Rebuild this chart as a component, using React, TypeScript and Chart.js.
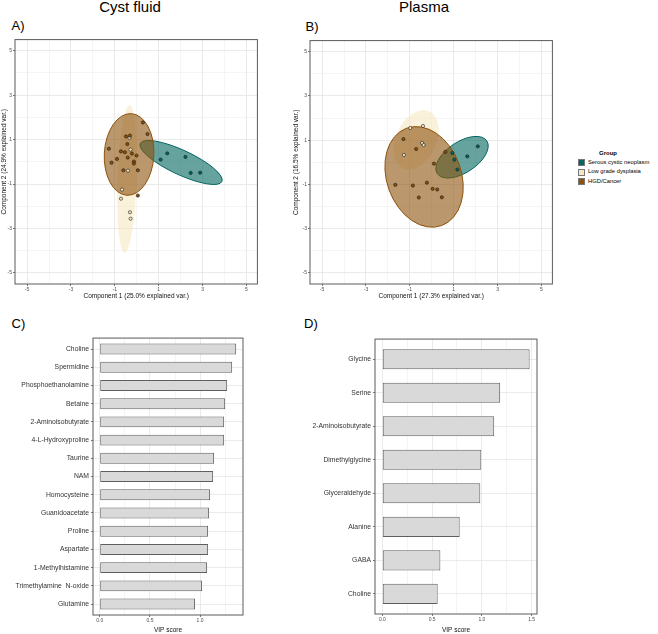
import React, { useEffect, useRef } from "react";
import { Chart, registerables } from "chart.js";
Chart.register(...registerables);

const FONT = "'Liberation Sans', Arial, Helvetica, sans-serif";

// ---- groups ----
const GROUPS = ["Serous cystic neoplasm", "Low grade dysplasia", "HGD/Cancer"];
const GROUP_COLORS = ["#01665E", "#F6E8C3", "#8C510A"];
const ELLIPSE_FILLS = ["rgba(1,102,94,0.6)", "rgba(246,232,195,0.6)", "rgba(140,81,10,0.6)"];
const ELLIPSE_STROKES = ["#01665E", "", "#8C510A"];

// ---- PCA axes ----
const PCA_GRID = [-5, -4, -3, -2, -1, 0, 1, 2, 3, 4, 5];
const PCA_LABELS = [-5, -3, -1, 1, 3, 5];

// ---- A) Cyst fluid ----
const A_SCN_X = [1.09, 1.39, 2.22, 2.46, 2.89];
const A_SCN_Y = [0.1, 0.38, 0.22, -0.5, -0.49];
const A_LGD_X = [-0.33, -0.28, -0.4, -0.67, -0.72, -0.31, -0.28];
const A_LGD_Y = [1.08, 0.55, -0.4, -1.25, -1.66, -2.27, -2.56];
const A_HGD_X = [0.28, 0.49, -1.27, -0.49, -0.31, -0.43, -0.72, -0.54, -0.22, -0.01, -0.9, -0.41, -1.15, -0.13, -0.13, -0.61, 0.05, 0.05];
const A_HGD_Y = [1.77, 1.25, 0.59, 1.14, 1.18, 0.8, 0.47, 0.43, 0.37, 0.28, 0.13, 0.19, -0.04, 0.01, -0.08, -0.38, -0.38, -1.52];
// ellipses (order: SCN, LGD, HGD)
const A_ELL_CX = [2.02, -0.44, -0.35];
const A_ELL_CY = [-0.03, -0.77, 0.33];
const A_ELL_A = [2.05, 3.32, 1.84];
const A_ELL_B = [0.55, 0.44, 1.13];
const A_ELL_ANGLE = [-24.7, 88, 87];
const A_XTITLE = "Component 1 (25.0% explained var.)";
const A_YTITLE = "Component 2 (24.9% explained var.)";

// ---- B) Plasma ----
const B_SCN_X = [0.94, 1.03, 1.17, 1.62, 2.1];
const B_SCN_Y = [0.42, 0.12, -0.33, 0.27, 0.72];
const B_LGD_X = [-0.98, -0.4, -0.44, -0.37, -1.27];
const B_LGD_Y = [1.55, 1.64, 0.87, 0.78, 0.33];
const B_HGD_X = [-1.29, -0.71, 0.62, 0.1, -1.66, -0.86, -0.22, 0.04, 0.25, -0.59, 0.46];
const B_HGD_Y = [1.05, 0.6, 0.47, -0.06, -1.02, -1.05, -0.92, -1.2, -1.23, -1.59, -1.58];
const B_ELL_CX = [1.38, -0.71, -0.35];
const B_ELL_CY = [0.23, 1.02, -0.66];
const B_ELL_A = [1.35, 1.42, 2.34];
const B_ELL_B = [0.7, 0.92, 1.7];
const B_ELL_ANGLE = [33, 65, 110];
const B_XTITLE = "Component 1 (27.3% explained var.)";
const B_YTITLE = "Component 2 (16.5% explained var.)";

// ---- C) VIP cyst fluid ----
const C_CATS = [
  "Choline", "Spermidine", "Phosphoethanolamine", "Betaine", "2-Aminoisobutyrate",
  "4-L-Hydroxyproline", "Taurine", "NAM", "Homocysteine", "Guanidoacetate",
  "Proline", "Aspartate", "1-Methylhistamine", "Trimethylamine  N-oxide", "Glutamine",
];
const C_VIP = [1.36, 1.32, 1.27, 1.25, 1.24, 1.24, 1.14, 1.13, 1.1, 1.09, 1.08, 1.08, 1.07, 1.02, 0.95];
const C_GRID = [0, 0.25, 0.5, 0.75, 1.0, 1.25];

// ---- D) VIP plasma ----
const D_CATS = ["Glycine", "Serine", "2-Aminoisobutyrate", "Dimethylglycine", "Glyceraldehyde", "Alanine", "GABA", "Choline"];
const D_VIP = [1.48, 1.184, 1.124, 0.994, 0.984, 0.777, 0.583, 0.556];
const D_GRID = [0, 0.25, 0.5, 0.75, 1.0, 1.25, 1.5];
const VIP_LABELS = [0, 0.5, 1.0, 1.5];

// ---- plugins ----
const ellipsePlugin = {
  id: "ellipses",
  beforeDatasetsDraw(chart: any, _a: any, opts: any) {
    const items = (opts && opts.items) || [];
    const { ctx, chartArea, scales } = chart;
    const x = scales.x, y = scales.y;
    ctx.save();
    ctx.beginPath();
    ctx.rect(chartArea.left, chartArea.top, chartArea.right - chartArea.left, chartArea.bottom - chartArea.top);
    ctx.clip();
    for (const e of items) {
      const px = x.getPixelForValue(e.cx);
      const py = y.getPixelForValue(e.cy);
      const sx = x.getPixelForValue(e.cx + 1) - px;
      const sy = py - y.getPixelForValue(e.cy + 1);
      ctx.save();
      ctx.translate(px, py);
      ctx.scale(sx, -sy);
      ctx.rotate((e.angle * Math.PI) / 180);
      ctx.beginPath();
      ctx.ellipse(0, 0, e.a, e.b, 0, 0, Math.PI * 2);
      ctx.restore();
      ctx.fillStyle = e.fill;
      ctx.fill();
      if (e.stroke) {
        ctx.strokeStyle = e.stroke;
        ctx.lineWidth = 1;
        ctx.stroke();
      }
    }
    ctx.restore();
  },
};

const boxPlugin = {
  id: "panelBox",
  afterDatasetsDraw(chart: any) {
    const { ctx, chartArea: a } = chart;
    ctx.save();
    ctx.strokeStyle = "#5a5a5a";
    ctx.lineWidth = 1;
    ctx.strokeRect(a.left, a.top, a.right - a.left, a.bottom - a.top);
    ctx.restore();
  },
};

const TICK_FONT = { family: FONT, size: 5 };
const TITLE_FONT = { family: FONT, size: 6.5 };

function buildEllipses(cx: number[], cy: number[], a: number[], b: number[], ang: number[]) {
  return cx.map((_, i) => ({
    cx: cx[i], cy: cy[i], a: a[i], b: b[i], angle: ang[i],
    fill: ELLIPSE_FILLS[i], stroke: ELLIPSE_STROKES[i],
  }));
}

function pts(xs: number[], ys: number[]) {
  return xs.map((v, i) => ({ x: v, y: ys[i] }));
}

function scatterConfig(
  scn: any[], lgd: any[], hgd: any[], ellipses: any[], xTitle: string, yTitle: string, yWidth: number
): any {
  const ds = (data: any[], gi: number) => ({
    label: GROUPS[gi],
    data,
    backgroundColor: GROUP_COLORS[gi],
    borderColor: "#1a1a1a",
    borderWidth: 0.6,
    pointRadius: 1.6,
  });
  const axisCommon = (title: string, isX: boolean) => ({
    type: "linear",
    min: isX ? -5.55 : -5.5,
    max: 5.5,
    afterBuildTicks: (s: any) => {
      s.ticks = PCA_GRID.map((v) => ({ value: v }));
    },
    afterFit: (s: any) => {
      if (isX) s.height = 16;
      else s.width = yWidth;
    },
    ticks: {
      autoSkip: false,
      maxRotation: 0,
      padding: 1,
      font: TICK_FONT,
      color: "#4d4d4d",
      callback: (v: number) => (PCA_LABELS.includes(v) ? String(v) : ""),
    },
    grid: {
      color: (c: any) => (c.tick && PCA_LABELS.includes(c.tick.value) ? "#e4e4e4" : "#efefef"),
      lineWidth: (c: any) => (c.tick && PCA_LABELS.includes(c.tick.value) ? 0.8 : 0.6),
      tickLength: 2,
      tickColor: (c: any) => (c.tick && PCA_LABELS.includes(c.tick.value) ? "#555" : "rgba(0,0,0,0)"),
    },
    border: { display: false },
    title: { display: true, text: title, font: TITLE_FONT, color: "#111", padding: 0 },
  });
  return {
    type: "scatter",
    data: { datasets: [ds(hgd, 2), ds(scn, 0), ds(lgd, 1)] },
    options: {
      responsive: false,
      animation: false,
      layout: { padding: { top: 4, right: 3, bottom: 0, left: 0 } },
      plugins: {
        legend: { display: false },
        tooltip: { enabled: false },
        ellipses: { items: ellipses },
      },
      scales: { x: axisCommon(xTitle, true), y: axisCommon(yTitle, false) },
    },
    plugins: [ellipsePlugin, boxPlugin],
  };
}

function barConfig(cats: string[], vals: number[], grid: number[], xMin: number, xMax: number, yWidth: number, xHeight: number): any {
  const yTicks = cats.map((_, i) => i + 1);
  return {
    type: "bar",
    data: {
      datasets: [
        {
          data: vals.map((v, i) => ({ x: v, y: i + 1 })),
          backgroundColor: "#d9d9d9",
          borderColor: "#5f5f5f",
          borderWidth: 1,
          borderSkipped: false,
          barPercentage: 0.6,
          categoryPercentage: 1,
        },
      ],
    },
    options: {
      indexAxis: "y",
      responsive: false,
      animation: false,
      layout: { padding: { top: 4, right: 3, bottom: 0, left: 0 } },
      plugins: { legend: { display: false }, tooltip: { enabled: false } },
      scales: {
        x: {
          type: "linear",
          min: xMin,
          max: xMax,
          afterBuildTicks: (s: any) => {
            s.ticks = grid.map((v) => ({ value: v }));
          },
          afterFit: (s: any) => {
            s.height = xHeight;
          },
          ticks: {
            autoSkip: false,
            maxRotation: 0,
            padding: 1,
            font: TICK_FONT,
            color: "#4d4d4d",
            callback: (v: number) => (VIP_LABELS.includes(v) ? v.toFixed(1) : ""),
          },
          grid: {
            color: (c: any) => (c.tick && VIP_LABELS.includes(c.tick.value) ? "#e6e6e6" : "#f1f1f1"),
            lineWidth: 0.8,
            tickLength: 2,
            tickColor: (c: any) => (c.tick && VIP_LABELS.includes(c.tick.value) ? "#555" : "rgba(0,0,0,0)"),
          },
          border: { display: false },
          title: { display: true, text: "VIP score", font: TITLE_FONT, color: "#111", padding: 0 },
        },
        y: {
          type: "linear",
          reverse: true,
          offset: false,
          min: 0.4,
          max: cats.length + 0.6,
          afterBuildTicks: (s: any) => {
            s.ticks = yTicks.map((v) => ({ value: v }));
          },
          afterFit: (s: any) => {
            s.width = yWidth;
          },
          ticks: {
            autoSkip: false,
            padding: 2,
            font: { family: FONT, size: 6.8 },
            color: "#333",
            callback: (v: number) => cats[v - 1],
          },
          grid: {
            offset: false,
            color: "#e6e6e6",
            lineWidth: 0.8,
            tickLength: 2,
            tickColor: "#555",
          },
          border: { display: false },
        },
      },
    },
    plugins: [boxPlugin],
  };
}

function ChartCanvas(props: { left: number; top: number; width: number; height: number; make: () => any }) {
  const ref = useRef<HTMLCanvasElement>(null);
  useEffect(() => {
    const chart = new Chart(ref.current as HTMLCanvasElement, props.make());
    return () => chart.destroy();
  }, []);
  return (
    <canvas
      ref={ref}
      width={props.width}
      height={props.height}
      style={{ position: "absolute", left: props.left, top: props.top, width: props.width, height: props.height }}
    />
  );
}

function Label(props: { text: string; left: number; top: number; size: number; width?: number; center?: boolean; bold?: boolean }) {
  return (
    <div
      style={{
        position: "absolute",
        left: props.left,
        top: props.top,
        width: props.width,
        textAlign: props.center ? "center" : "left",
        fontFamily: FONT,
        fontSize: props.size,
        fontWeight: props.bold ? "bold" : "normal",
        lineHeight: 1,
        whiteSpace: "pre",
        color: "#000",
      }}
    >
      {props.text}
    </div>
  );
}

export default function App() {
  return (
    <div style={{ position: "absolute", left: 0, top: 0, width: 658, height: 634, background: "#fff", overflow: "hidden" }}>
      <Label text="Cyst fluid" left={30} top={-1} width={200} size={15} center />
      <Label text="Plasma" left={324} top={-1} width={200} size={15} center />
      <Label text="A)" left={11.5} top={19} size={13} />
      <Label text="B)" left={305.5} top={19.5} size={13} />
      <Label text="C)" left={11.5} top={317} size={13} />
      <Label text="D)" left={304} top={317} size={13} />

      <ChartCanvas
        left={0}
        top={35}
        width={262}
        height={265}
        make={() =>
          scatterConfig(
            pts(A_SCN_X, A_SCN_Y), pts(A_LGD_X, A_LGD_Y), pts(A_HGD_X, A_HGD_Y),
            buildEllipses(A_ELL_CX, A_ELL_CY, A_ELL_A, A_ELL_B, A_ELL_ANGLE),
            A_XTITLE, A_YTITLE, 15
          )
        }
      />
      <ChartCanvas
        left={292}
        top={36}
        width={265}
        height={264}
        make={() =>
          scatterConfig(
            pts(B_SCN_X, B_SCN_Y), pts(B_LGD_X, B_LGD_Y), pts(B_HGD_X, B_HGD_Y),
            buildEllipses(B_ELL_CX, B_ELL_CY, B_ELL_A, B_ELL_B, B_ELL_ANGLE),
            B_XTITLE, B_YTITLE, 18
          )
        }
      />

      <div style={{ position: "absolute", left: 576, top: 149, fontFamily: FONT }}>
        <div style={{ fontSize: 6, fontWeight: "bold", textAlign: "center", width: 64, lineHeight: "9px", marginLeft: 0 }}>Group</div>
        {GROUPS.map((g, i) => (
          <div key={g} style={{ display: "flex", alignItems: "center", height: 9.4 }}>
            <div style={{ width: 7, height: 7, background: GROUP_COLORS[i], border: "0.5px solid #777", boxSizing: "border-box", marginLeft: 2 }} />
            <div style={{ fontSize: 5.8, marginLeft: 3, whiteSpace: "nowrap", lineHeight: 1 }}>{g}</div>
          </div>
        ))}
      </div>

      <ChartCanvas
        left={0}
        top={332}
        width={246}
        height={302}
        make={() => barConfig(C_CATS, C_VIP, C_GRID, -0.068, 1.428, 93, 19)}
      />
      <ChartCanvas
        left={290}
        top={333}
        width={250}
        height={301}
        make={() => barConfig(D_CATS, D_VIP, D_GRID, -0.074, 1.554, 85, 20)}
      />
    </div>
  );
}
